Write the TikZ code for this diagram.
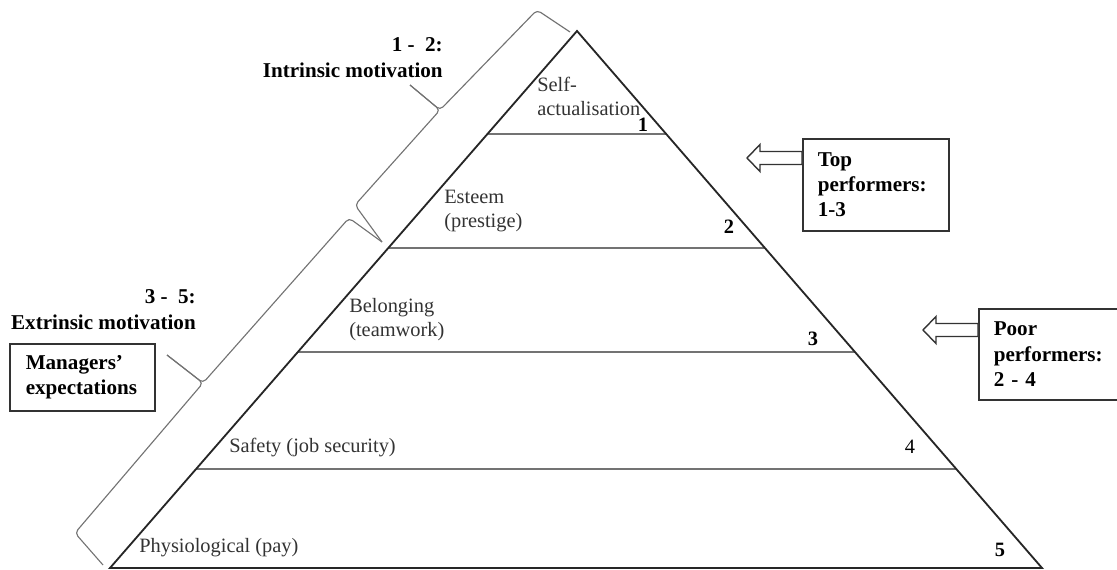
\documentclass[tikz,border=0pt]{standalone}
\usepackage{fontspec}
\setmainfont{Liberation Serif}
\usetikzlibrary{calc}

\begin{document}
\begin{tikzpicture}[x=0.025cm, y=-0.025cm,
    edge/.style={black!85, line width=1.3pt},
    tier/.style={black!55, line width=0.9pt},
    brace/.style={black!55, line width=0.8pt, rounded corners=3pt},
    lvl/.style={font=\fontsize{14.5}{17}\selectfont, text=black!80, align=left, inner sep=0pt, anchor=west},
    num/.style={font=\fontsize{14.5}{17}\selectfont\bfseries, inner sep=0pt},
    tag/.style={font=\fontsize{15}{18}\selectfont\bfseries, align=right, inner sep=0pt, anchor=east},
    box/.style={draw=black!80, line width=1.1pt, font=\fontsize{15}{18}\selectfont\bfseries, align=left, anchor=north west, inner xsep=0.375cm, inner ysep=0pt},
    hollow/.style={draw=black!80, line width=1pt, fill=white}]
    \useasboundingbox (0,0) rectangle (1117,570);
    \clip (0,0) rectangle (1117,570);

    % Pyramid
    \coordinate (apex) at (577,31);
    \coordinate (bl) at (110,568);
    \coordinate (br) at (1042,568);
    \foreach \y in {134,248,352,469}
        \draw[tier] ($(bl)!{(568-\y)/537}!(apex)$) -- ($(br)!{(568-\y)/537}!(apex)$);
    \draw[edge] (bl) -- (apex) -- (br) -- cycle;

    % Levels
    \node[lvl] (selfact) at (537,96) {Self-\\actualisation};
    \node[lvl] (esteem) at (444,211) {Esteem\\(prestige)};
    \node[lvl] (belong) at (349,320) {Belonging\\(teamwork)};
    \node[lvl] (safety) at (229,448) {Safety (job security)};
    \node[lvl] (physio) at (139,548) {Physiological (pay)};

    \node[num] (n1) at (643,125) {1};
    \node[num] (n2) at (729,227) {2};
    \node[num] (n3) at (813,339) {3};
    \node[num] (n4) at (910,447) {\mdseries 4};
    \node[num] (n5) at (1000,550) {5};

    % Braces
    \draw[brace] (570,32) -- (537,10) -- (440,110) -- (410,85);
    \draw[brace] (410,85) -- (440,110) -- (355,205) -- (382,242);
    \draw[brace] (382,242) -- (349,218) -- (203,383) -- (167,355);
    \draw[brace] (167,355) -- (203,383) -- (75,533) -- (103,565);

    \node[tag] (intr) at (443,57.5) {1 - \ 2:\\Intrinsic motivation};
    \node[tag] (extr) at (196,309.5) {3 - \ 5:\\Extrinsic motivation};

    % Boxes
    \node[box, inner xsep=0.4cm, text width=2.825cm, minimum height=1.675cm] (managers) at (9,343) {Managers'\\expectations};
    \node[box, text width=2.9cm, minimum height=2.3cm] (topbox) at (802,138) {Top\\performers:\\1-3};
    \node[box, text width=3.75cm, minimum height=2.275cm] (poorbox) at (978,308) {Poor\\performers:\\2 - 4};

    % Arrows
    \coordinate (toptip) at (747,158);
    \coordinate (poortip) at (923,330);
    \draw[hollow] (toptip) -- ++(13,-13.5) -- ++(0,7) -- ($(topbox.west |- toptip)+(0,-6.5)$)
        -- ($(topbox.west |- toptip)+(0,6.5)$) -- ($(toptip)+(13,6.5)$) -- ++(0,7) -- cycle;
    \draw[hollow] (poortip) -- ++(13,-13.5) -- ++(0,7) -- ($(poorbox.west |- poortip)+(0,-6.5)$)
        -- ($(poorbox.west |- poortip)+(0,6.5)$) -- ($(poortip)+(13,6.5)$) -- ++(0,7) -- cycle;
\end{tikzpicture}
\end{document}
